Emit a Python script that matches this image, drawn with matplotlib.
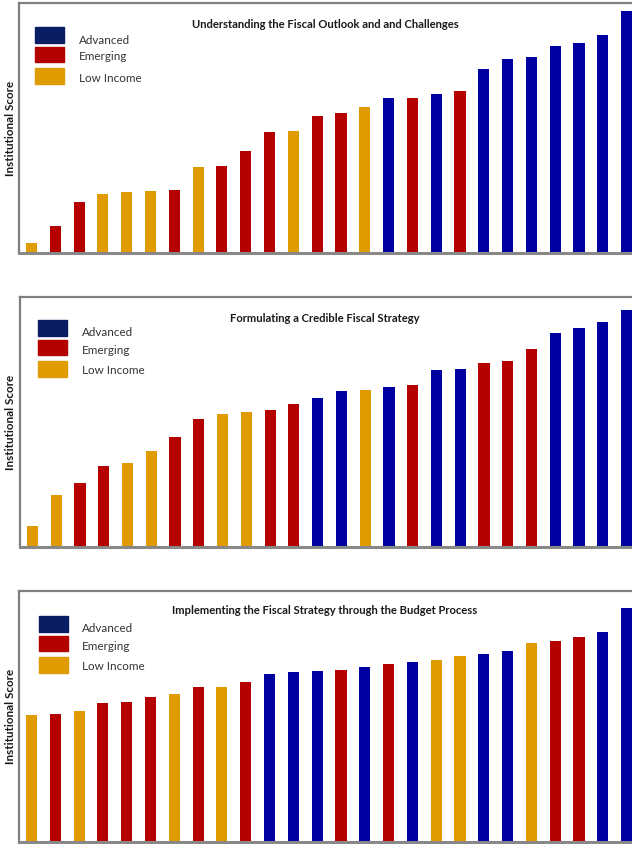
import matplotlib
matplotlib.use("Agg")
import matplotlib.pyplot as plt
from matplotlib.patches import Rectangle

plt.rcParams['font.family'] = ['Lato', 'DejaVu Sans']

# ---- data (arbitrary institutional score units, 0-100) ----
titles = [
    "Understanding the Fiscal Outlook and and Challenges",
    "Formulating a Credible Fiscal Strategy",
    "Implementing the Fiscal Strategy through the Budget Process",
]

scores_outlook = [3.9, 10.8, 20.4, 23.6, 24.4, 24.8, 25.2, 34.3, 34.8, 40.8, 48.4, 48.9,
                  54.8, 56.0, 58.3, 62.0, 62.0, 63.6, 64.9, 73.6, 77.6, 78.4, 82.8, 84.0,
                  87.2, 96.8]
groups_outlook = ["L", "E", "E", "L", "L", "L", "E", "L", "E", "E", "E", "L",
                  "E", "E", "L", "A", "E", "A", "E", "A", "A", "A", "A", "A", "A", "A"]

scores_strategy = [8.5, 21.0, 25.8, 32.6, 33.5, 38.4, 44.1, 51.3, 53.1, 54.0, 54.9, 57.3,
                   59.7, 62.5, 62.9, 64.1, 64.9, 70.9, 71.3, 73.7, 74.5, 79.2, 85.6, 87.6,
                   90.0, 94.8]
groups_strategy = ["L", "L", "E", "E", "L", "L", "E", "E", "L", "L", "E", "E",
                   "A", "A", "L", "A", "E", "A", "A", "E", "E", "E", "A", "A", "A", "A"]

scores_budget = [50.5, 50.9, 52.1, 55.3, 55.7, 57.7, 58.9, 61.7, 61.6, 63.7, 66.9, 67.7,
                 68.2, 68.5, 69.7, 70.9, 71.7, 72.6, 74.0, 74.9, 76.1, 79.4, 80.1, 81.7,
                 83.7, 93.2]
groups_budget = ["L", "E", "L", "E", "E", "E", "L", "E", "L", "E", "A", "A",
                 "A", "E", "A", "E", "A", "L", "L", "A", "A", "L", "E", "E", "A", "A"]

legend_labels = ["Advanced", "Emerging", "Low Income"]
legend_keys = ["A", "E", "L"]

bar_colors = {"A": "#0000A0", "E": "#B50000", "L": "#E09B00"}
legend_colors = {"A": "#0B1D62", "E": "#B50000", "L": "#E09B00"}

panels = [
    (titles[0], scores_outlook, groups_outlook),
    (titles[1], scores_strategy, groups_strategy),
    (titles[2], scores_budget, groups_budget),
]

W, H = 632, 844
fig = plt.figure(figsize=(W / 100, H / 100), dpi=100)

# axes pixel boxes: (left, top, bottom)
boxes = [(19, 3, 253), (20, 297, 547), (19, 591, 842)]
leg = [
    dict(px=35, tops=[27, 47, 68], hts=[16, 15, 16], tx=79, ty=[40, 57, 78], title_y=24),
    dict(px=38, tops=[320, 340, 361], hts=[16, 15, 16], tx=82, ty=[333, 350, 371], title_y=318),
    dict(px=39, tops=[616, 636, 657], hts=[16, 15, 16], tx=82, ty=[629, 646, 667], title_y=610),
]

for (title, vals, grps), (l, t, b), lg in zip(panels, boxes, leg):
    ax_w_px = (W - l) + 0.02 * W
    ax = fig.add_axes([l / W, 1 - b / H, ax_w_px / W, (b - t) / H])
    x = list(range(len(vals)))
    ax.bar(x, vals, width=0.47, color=[bar_colors[g] for g in grps], zorder=2)
    ax.set_xlim(-0.525, 25.23 + 0.02 * W / 23.8)
    ax.set_ylim(0, 100)
    ax.set_xticks([])
    ax.set_yticks([])
    for s in ["left", "top"]:
        ax.spines[s].set_color("#7f7f7f")
        ax.spines[s].set_linewidth(1.6)
    ax.spines["bottom"].set_color("#888888")
    ax.spines["bottom"].set_linewidth(2.2)
    ax.spines["bottom"].set_zorder(3)
    ax.spines["right"].set_visible(False)
    ax.set_ylabel("Institutional Score", fontsize=8.4, fontweight="bold", color="#1a1a1a")
    ax.yaxis.set_label_coords(-(l - 16) / ax_w_px, 0.5)

    fig.text(325 / W, 1 - lg["title_y"] / H, title, ha="center", va="center",
             fontsize=8.1, fontweight="bold", color="#1a1a1a")
    for key, lab, top, ht, ty in zip(legend_keys, legend_labels, lg["tops"], lg["hts"], lg["ty"]):
        fig.patches.append(Rectangle((lg["px"] / W, 1 - (top + ht) / H), 29 / W, ht / H,
                                     transform=fig.transFigure, color=legend_colors[key],
                                     zorder=5))
        fig.text(lg["tx"] / W, 1 - ty / H, lab, ha="left", va="center",
                 fontsize=8.4, color="#333333")

fig.savefig("out.png", dpi=100)
